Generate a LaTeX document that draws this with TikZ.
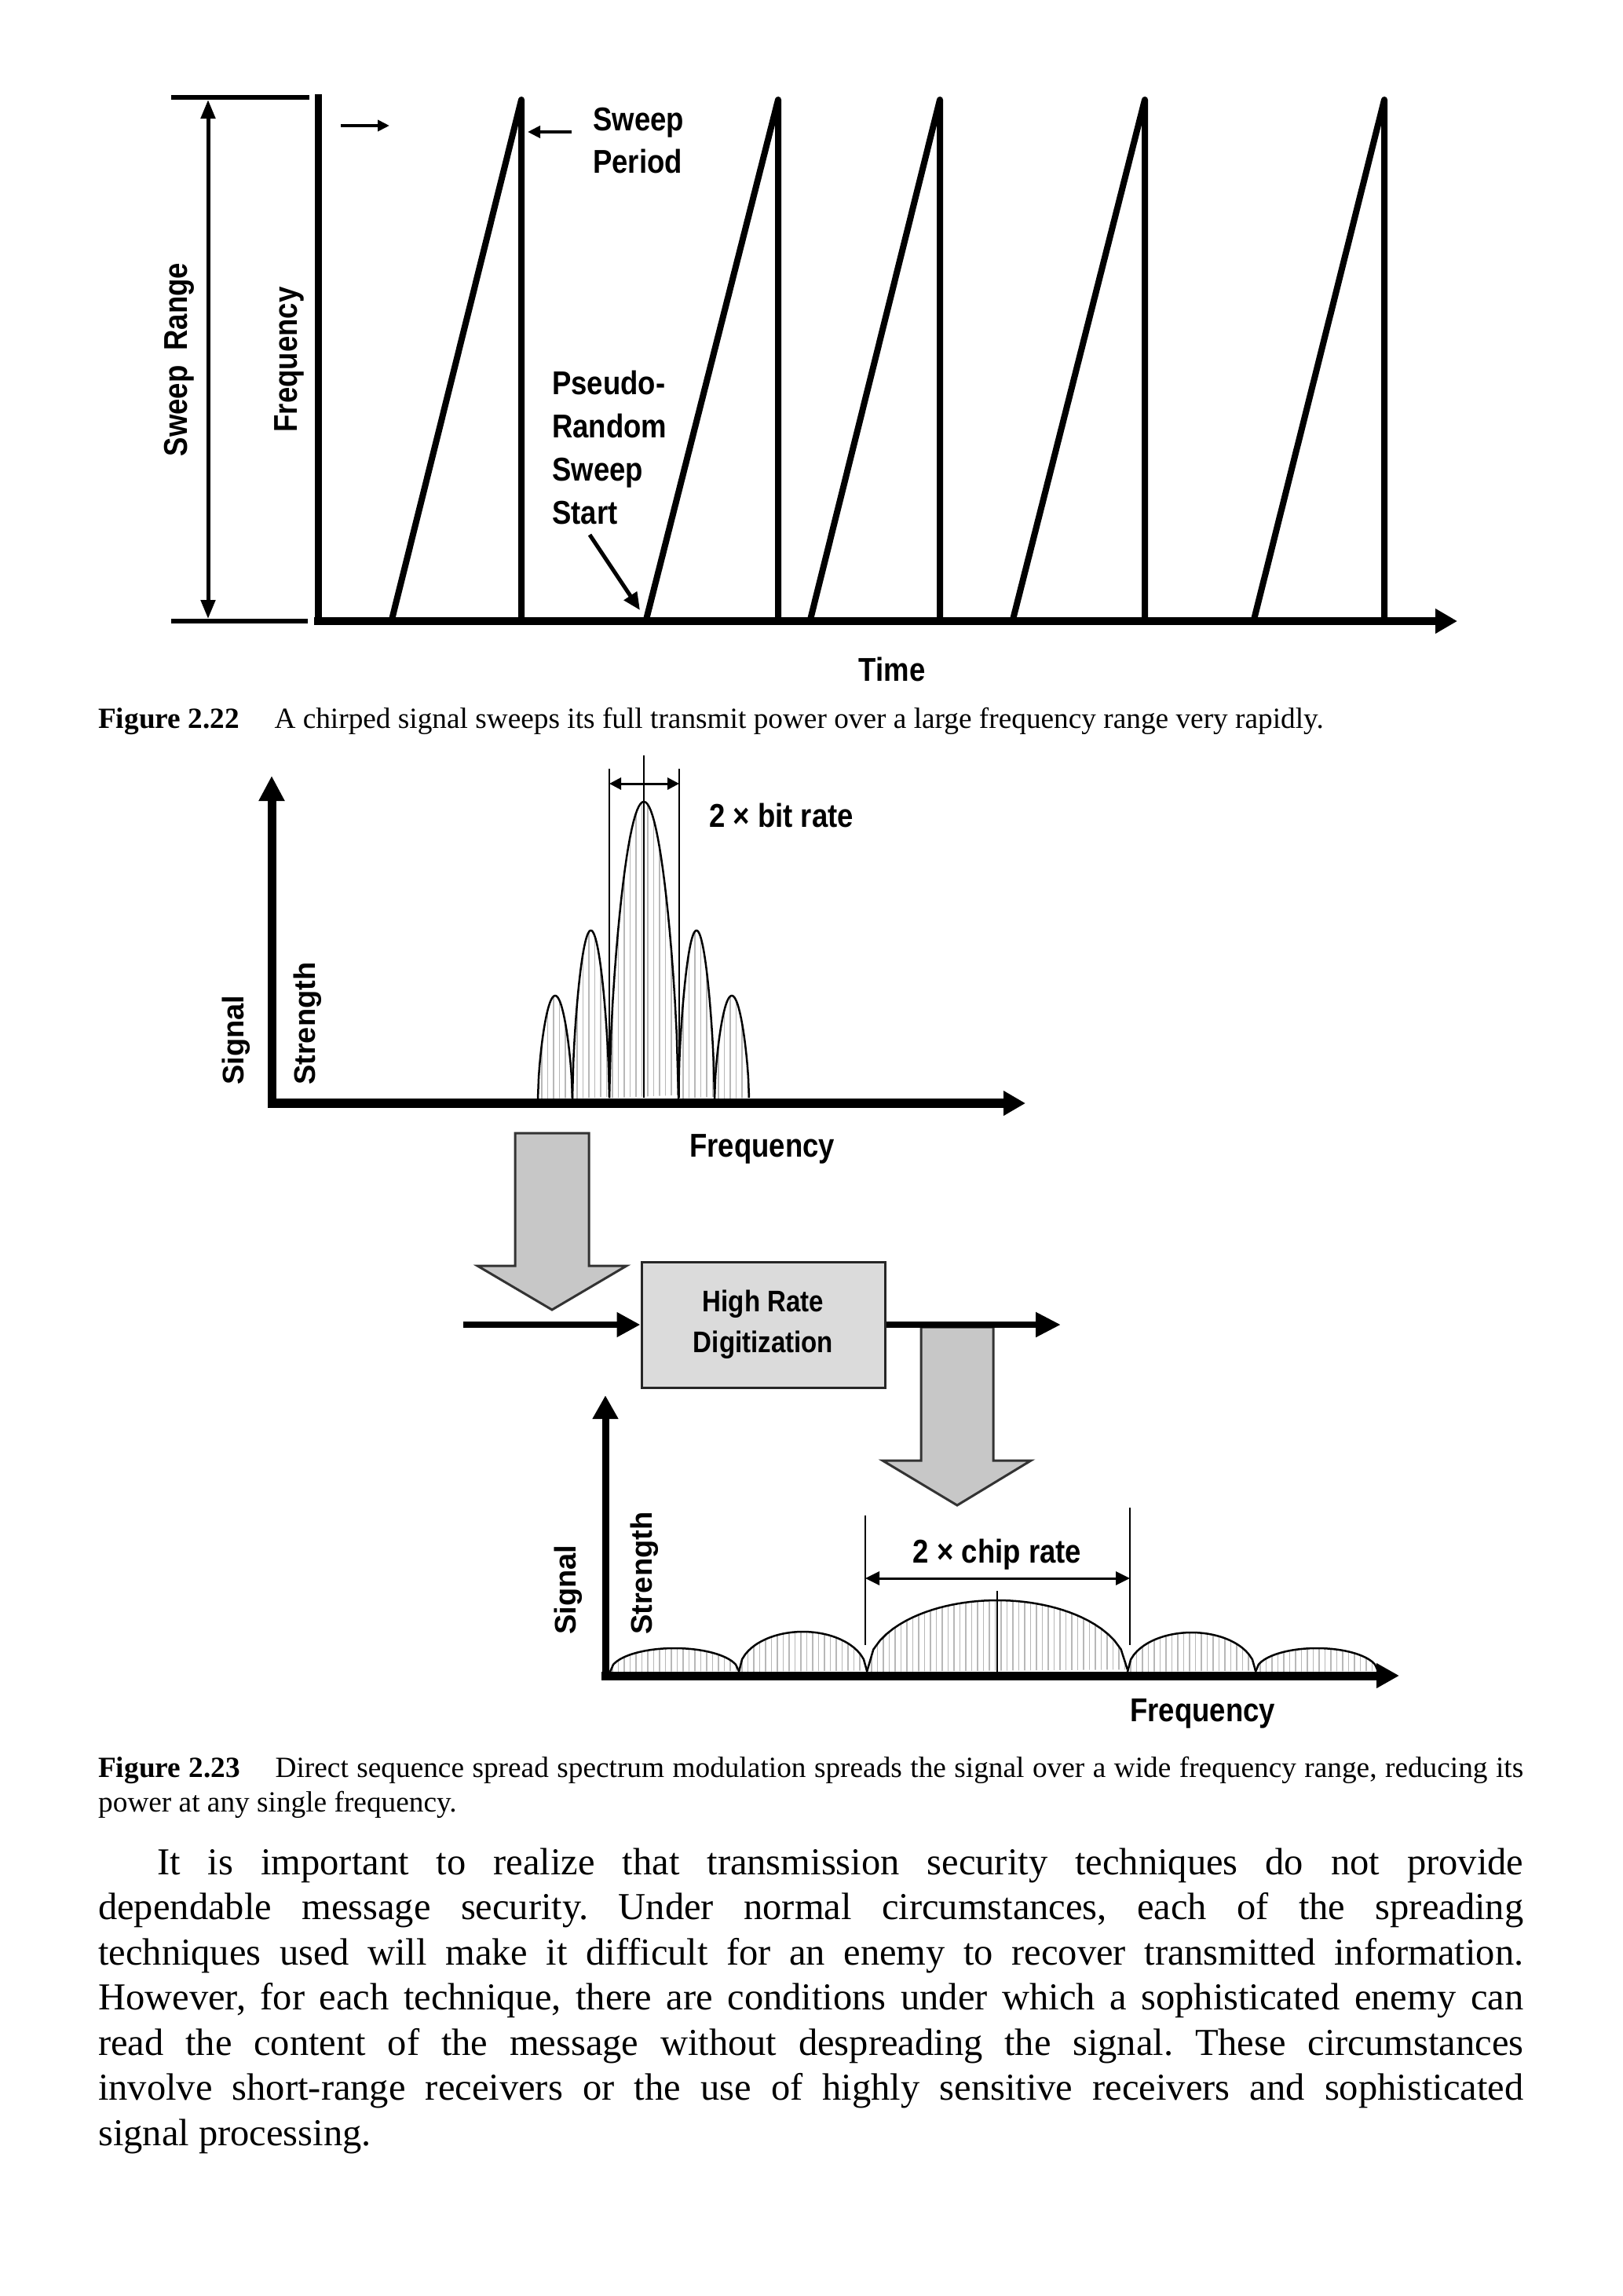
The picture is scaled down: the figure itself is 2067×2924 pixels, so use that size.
\documentclass[tikz,border=0pt]{standalone}
\usepackage{fontspec}
\setmainfont{Liberation Serif}
\newfontfamily\labfont[FakeStretch=0.87]{Liberation Sans}
\newfontfamily\sigfont{Liberation Sans}
\usetikzlibrary{arrows.meta,patterns.meta}
\frenchspacing
\begin{document}
\frenchspacing
\begin{tikzpicture}[x=1pt,y=-1pt,
  lab/.style={inner sep=0pt, font=\labfont\bfseries\fontsize{42}{50}\selectfont},
  siglab/.style={inner sep=0pt, rotate=90, anchor=west, font=\sigfont\bfseries\fontsize{38}{42}\selectfont},
  captext/.style={inner sep=0pt, anchor=base west, font=\fontsize{37.3}{45}\selectfont},
  bodyline/.style={inner sep=0pt, anchor=base west, font=\fontsize{48.5}{57.5}\selectfont},
  saw/.style={line width=8pt, line join=round},
  hatch/.style={pattern={Lines[angle=90,distance=7.5pt,line width=1.2pt]}, pattern color=black!28},
  lobe/.style={line width=2.5pt},
  thinv/.style={line width=2pt},
  bigarrow/.style={fill=black!22, draw=black!80, line width=3pt, line join=miter},
]
\fill[white] (0,0) rectangle (2067,2924);
\useasboundingbox (0,0) rectangle (2067,2924);

%% ---------------- Figure 2.22 ----------------
\draw[line width=6pt] (218,124) -- (394,124);
\draw[line width=6pt] (218,791) -- (392,791);
\draw[line width=5pt, {Triangle[length=24pt,width=18pt]}-{Triangle[length=24pt,width=18pt]}] (265,127) -- (265,788);
\draw[line width=9pt] (405,120) -- (405,796);
\draw[line width=10pt, -{Triangle[length=28pt,width=30pt]}] (400,791) -- (1856,791);
\foreach \s/\p in {499/664, 823/991, 1032/1197, 1290/1458, 1597/1763}
  \draw[saw] (\s,789) -- (\p,127) -- (\p,789);
\draw[line width=4pt, -{Triangle[length=15pt,width=14pt]}] (434,160) -- (496,160);
\coordinate (spA) at (728,168);
\coordinate (spB) at (672,168);
\draw[line width=4pt, -{Triangle[length=16pt,width=15pt]}] (spA) -- (spB);
\coordinate (psA) at (751,681);
\coordinate (psB) at (815,777);
\draw[line width=5pt, -{Triangle[length=22pt,width=19pt]}] (psA) -- (psB);

\node[lab, anchor=base west] (sw1) at (755,166) {Sweep};
\node[lab, anchor=base west] (sw2) at (755,220) {Period};
\node[lab, anchor=base west] (pr1) at (703,502) {Pseudo-};
\node[lab, anchor=base west] (pr2) at (703,557) {Random};
\node[lab, anchor=base west] (pr3) at (703,612) {Sweep};
\node[lab, anchor=base west] (pr4) at (703,667) {Start};
\node[lab, rotate=90] (srange) at (228,458) {Sweep\hspace{0.45em}Range};
\node[lab, rotate=90] (freqA) at (368,458) {Frequency};
\node[lab, anchor=base] (time) at (1136,867) {Time};

\node[captext] (cap1) at (125,927) {\textbf{Figure 2.22}\hspace{1.2em}A chirped signal sweeps its full transmit power over a large frequency range very rapidly.};

%% ---------------- Figure 2.23 (upper spectrum) ----------------
\foreach \a/\b/\h in {685/729/132, 729/776/215, 776/864/379, 864/910/215, 910/954/132} {
  \fill[hatch] plot[domain=0:1, samples=41] ({\a+(\b-\a)*\x},{1400-\h*pow(abs(sin(180*\x))+0.0001,0.6)}) -- cycle;
  \draw[lobe] plot[domain=0:1, samples=41] ({\a+(\b-\a)*\x},{1400-\h*pow(abs(sin(180*\x))+0.0001,0.6)});
}
\draw[thinv] (776,979) -- (776,1398);
\draw[thinv] (865,979) -- (865,1398);
\draw[thinv] (820,962) -- (820,1398);
\coordinate (brA) at (776,998);
\coordinate (brB) at (865,998);
\draw[line width=3pt, {Triangle[length=15pt,width=15pt]}-{Triangle[length=15pt,width=15pt]}] (brA) -- (brB);
\draw[line width=11pt, -{Triangle[length=32pt,width=31pt]}] (346,1411) -- (346,988);
\draw[line width=12pt, -{Triangle[length=28pt,width=30pt]}] (341,1405) -- (1306,1405);
\node[lab, anchor=base west] (bitrate) at (903,1053) {2 × bit rate};
\node[lab, anchor=base west] (freqB) at (878,1473) {Frequency};
\node[siglab] (sigB) at (301,1382) {Signal};
\node[siglab] (strB) at (392,1382) {Strength};

%% ---------------- digitization ----------------
\draw[bigarrow] (656,1443) -- (750,1443) -- (750,1612) -- (798,1612) -- (703,1668) -- (608,1612) -- (656,1612) -- cycle;
\draw[bigarrow] (1173,1690) -- (1265,1690) -- (1265,1860) -- (1313,1860) -- (1219,1917) -- (1124,1860) -- (1173,1860) -- cycle;
\node[draw=black!85, line width=3pt, fill=black!14, minimum width=310pt, minimum height=160pt,
      align=center, inner sep=0pt, font=\labfont\bfseries\fontsize{38}{52}\selectfont] (dig) at (972,1687) {High Rate\\Digitization};
\coordinate (inA) at (590,1687);
\coordinate (outB) at (1351,1687);
\draw[line width=8pt, -{Triangle[length=30pt,width=30pt]}] (inA) -- (dig.west);
\draw[line width=8pt, -{Triangle[length=32pt,width=30pt]}] (dig.east) -- (outB);

%% ---------------- Figure 2.23 (lower spectrum) ----------------
\foreach \a/\b/\h in {777/941/30, 941/1104/51, 1104/1436/91, 1436/1599/50, 1599/1755/30} {
  \fill[hatch] plot[domain=0:1, samples=41] ({\a+(\b-\a)*\x},{2129-\h*2*sqrt(abs(\x*(1-\x)))}) -- cycle;
  \draw[lobe] plot[domain=0:1, samples=41] ({\a+(\b-\a)*\x},{2129-\h*2*sqrt(abs(\x*(1-\x)))});
}
\draw[thinv] (1102,1930) -- (1102,2095);
\draw[thinv] (1439,1920) -- (1439,2095);
\draw[thinv] (1270,2026) -- (1270,2129);
\coordinate (crA) at (1102,2010);
\coordinate (crB) at (1439,2010);
\draw[line width=3pt, {Triangle[length=18pt,width=17pt]}-{Triangle[length=18pt,width=17pt]}] (crA) -- (crB);
\draw[line width=9pt, -{Triangle[length=30pt,width=31pt]}] (771,2140) -- (771,1777);
\draw[line width=11pt, -{Triangle[length=29pt,width=30pt]}] (766,2134) -- (1782,2134);
\node[lab, anchor=base] (chiprate) at (1270,1990) {2 × chip rate};
\node[lab, anchor=base west] (freqC) at (1439,2192) {Frequency};
\node[siglab] (sigC) at (724,2082) {Signal};
\node[siglab] (strC) at (821,2082) {Strength};

\node[captext] (cap2a) at (125,2263) {\makebox[1815pt][s]{\textbf{Figure 2.23}\hspace{1.2em}Direct sequence spread spectrum modulation spreads the signal over a wide frequency range, reducing its}};
\node[captext] (cap2b) at (125,2307) {power at any single frequency.};

%% ---------------- body text ----------------
\node[bodyline] (l1) at (200,2387) {\makebox[1740pt][s]{It is important to realize that transmission security techniques do not provide}};
\node[bodyline] (l2) at (125,2444.5) {\makebox[1815pt][s]{dependable message security. Under normal circumstances, each of the spreading}};
\node[bodyline] (l3) at (125,2502) {\makebox[1815pt][s]{techniques used will make it difficult for an enemy to recover transmitted information.}};
\node[bodyline] (l4) at (125,2559.5) {\makebox[1815pt][s]{However, for each technique, there are conditions under which a sophisticated enemy can}};
\node[bodyline] (l5) at (125,2617) {\makebox[1815pt][s]{read the content of the message without despreading the signal. These circumstances}};
\node[bodyline] (l6) at (125,2674.5) {\makebox[1815pt][s]{involve short-range receivers or the use of highly sensitive receivers and sophisticated}};
\node[bodyline] (l7) at (125,2732) {signal processing.};
\end{tikzpicture}
\end{document}
